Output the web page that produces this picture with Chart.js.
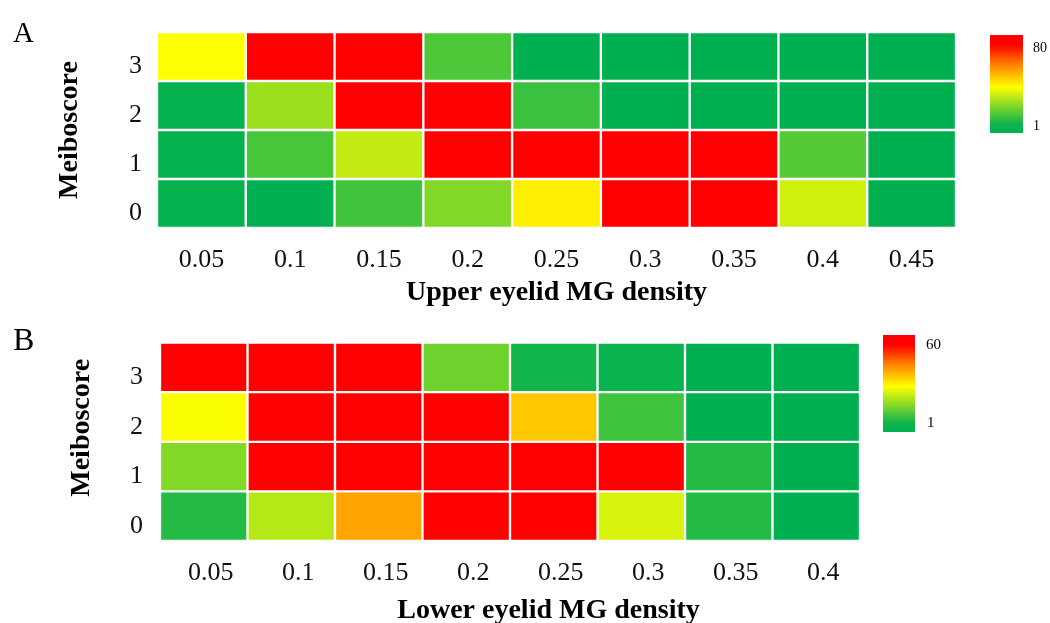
<!DOCTYPE html>
<html>
<head>
<meta charset="utf-8">
<script src="https://cdn.jsdelivr.net/npm/chart.js@4.4.1/dist/chart.umd.min.js"></script>
<style>
  html, body { margin:0; padding:0; background:#fff; overflow:hidden; width:1050px; height:623px; }
  canvas { position:absolute; left:0; }
  .lbl { position:absolute; font-family:'Liberation Serif', serif; color:#000; white-space:nowrap; }
  .bar { position:absolute; }
</style>
</head>
<body>
<canvas id="chartA" width="1050" height="310" style="top:0"></canvas>
<canvas id="chartB" width="1050" height="330" style="top:310px"></canvas>

<div class="lbl" style="left:13px; top:18px; font-size:29px; line-height:29px;">A</div>
<div class="lbl" style="left:13px; top:323px; font-size:32px; line-height:32px;">B</div>

<div class="bar" style="left:990px; top:35px; width:33px; height:98px; background:linear-gradient(to top, #00b050 0%, #14b44c 10%, #ffff00 47%, #ff8000 70%, #ff0000 90%);"></div>
<div class="lbl" style="left:1033px; top:41px; font-size:14px; line-height:14px;">80</div>
<div class="lbl" style="left:1033px; top:119px; font-size:14px; line-height:14px;">1</div>

<div class="bar" style="left:883px; top:335px; width:32px; height:97px; background:linear-gradient(to top, #00b050 0%, #14b44c 10%, #ffff00 47%, #ff8000 70%, #ff0000 90%);"></div>
<div class="lbl" style="left:926px; top:337px; font-size:15px; line-height:15px;">60</div>
<div class="lbl" style="left:927px; top:415px; font-size:15px; line-height:15px;">1</div>

<script>
// ---- data ----
const scoreLabels = ['0', '1', '2', '3'];

const upperLabels = ['0.05', '0.1', '0.15', '0.2', '0.25', '0.3', '0.35', '0.4', '0.45'];
const upperScore0 = [2, 1, 11, 21, 43, 80, 80, 33, 1];
const upperScore1 = [2, 12, 31, 80, 80, 80, 80, 14, 1];
const upperScore2 = [2, 25, 80, 80, 10, 1, 1, 1, 1];
const upperScore3 = [40, 80, 80, 13, 1, 1, 1, 1, 1];
const upperRange = [1, 80];

const lowerLabels = ['0.05', '0.1', '0.15', '0.2', '0.25', '0.3', '0.35', '0.4'];
const lowerScore0 = [5, 22, 41, 60, 60, 26, 5, 1];
const lowerScore1 = [16, 60, 60, 60, 60, 60, 5, 1];
const lowerScore2 = [30, 60, 60, 60, 37, 8, 1, 1];
const lowerScore3 = [60, 60, 60, 14, 3, 2, 1, 1];
const lowerRange = [1, 60];

// ---- colour scale: green -> yellow -> red ----
function heatColor(v, range) {
  let t = (v - range[0]) / (range[1] - range[0]);
  t = Math.max(0, Math.min(1, t));
  const g0 = [0, 176, 80], y0 = [255, 255, 0], r0 = [255, 0, 0];
  let a, b, u;
  if (t <= 0.5) { a = g0; b = y0; u = t / 0.5; } else { a = y0; b = r0; u = (t - 0.5) / 0.5; }
  const c = a.map((x, i) => Math.round(x + (b[i] - x) * u));
  return 'rgb(' + c.join(',') + ')';
}

const FONT = 'Liberation Serif';

function makeChart(id, labels, rows, range, xTitle, yTitle, g) {
  const datasets = rows.map((counts, s) => ({
    data: labels.map(() => [s, s + 1]),
    backgroundColor: counts.map(v => heatColor(v, range)),
    borderColor: '#ffffff',
    borderWidth: 1.5,
    borderSkipped: false,
    categoryPercentage: 1,
    barPercentage: 1,
    grouped: false
  }));
  return new Chart(document.getElementById(id), {
    type: 'bar',
    data: { labels: labels, datasets: datasets },
    options: {
      animation: false,
      responsive: false,
      devicePixelRatio: 1,
      layout: { padding: { top: g.top, right: g.right, left: 0, bottom: 0 } },
      plugins: { legend: { display: false }, tooltip: { enabled: false } },
      scales: {
        x: {
          type: 'category',
          offset: true,
          grid: { display: false, drawTicks: false },
          border: { display: false },
          ticks: { color: '#111', font: { family: FONT, size: 26 }, padding: 17, maxRotation: 0, autoSkip: false, labelOffset: g.xLabelOffset },
          title: { display: true, text: xTitle, color: '#000', font: { family: FONT, size: 28, weight: 'bold' }, padding: { top: 0, bottom: g.xTitlePad } },
          afterFit: s => { s.height = g.xHeight; }
        },
        y: {
          type: 'linear',
          min: 0,
          max: 4,
          grid: { display: false, drawTicks: false },
          border: { display: false },
          afterBuildTicks: s => { s.ticks = scoreLabels.map((l, i) => ({ value: i + 0.5 })); },
          ticks: {
            color: '#111',
            font: { family: FONT, size: 26 },
            padding: g.yTickPad,
            labelOffset: 10,
            callback: v => scoreLabels[Math.floor(v)]
          },
          title: { display: true, text: yTitle, color: '#000', font: { family: FONT, size: 28, weight: 'bold' }, padding: { top: g.yTitlePad, bottom: 0 } },
          afterFit: s => { s.width = g.yWidth; }
        }
      }
    }
  });
}

makeChart('chartA', upperLabels, [upperScore0, upperScore1, upperScore2, upperScore3], upperRange,
  'Upper eyelid MG density', 'Meiboscore',
  { top: 32, right: 94, xHeight: 82, xTitlePad: 0, yWidth: 157, yTickPad: 15, yTitlePad: 53, xLabelOffset: 0 });

makeChart('chartB', lowerLabels, [lowerScore0, lowerScore1, lowerScore2, lowerScore3], lowerRange,
  '           Lower eyelid MG density', '    Meiboscore',
  { top: 28, right: 190, xHeight: 99, xTitlePad: 12, yWidth: 160, yTickPad: 17, yTitlePad: 65, xLabelOffset: 7 });
</script>
</body>
</html>
